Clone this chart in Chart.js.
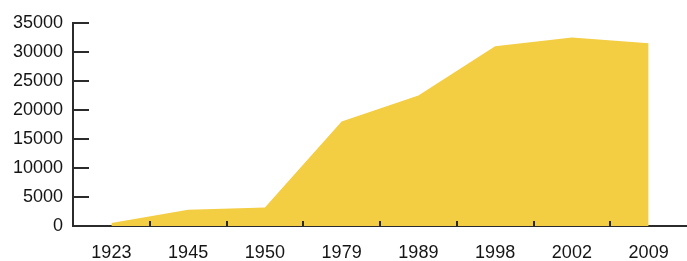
<!DOCTYPE html>
<html>
<head>
<meta charset="utf-8">
<script src="https://cdn.jsdelivr.net/npm/chart.js@4"></script>
<style>
  html, body { margin: 0; padding: 0; background: #fff; }
  #wrap { width: 687px; height: 261px; }
</style>
</head>
<body>
<div id="wrap"><canvas id="areaChart"></canvas></div>
<script>
// data
const years = ['1923', '1945', '1950', '1979', '1989', '1998', '2002', '2009'];
const values = [500, 2800, 3200, 18000, 22500, 31000, 32500, 31500];
const yTicks = [0, 5000, 10000, 15000, 20000, 25000, 30000, 35000];

const axisColor = '#2b2b2b';

// inward tick marks like the original print
const innerTicks = {
  id: 'innerTicks',
  afterDatasetsDraw(chart) {
    const { ctx, chartArea, scales } = chart;
    ctx.save();
    ctx.strokeStyle = axisColor;
    ctx.lineWidth = 2;
    ctx.beginPath();
    yTicks.forEach(v => {
      const y = Math.round(scales.y.getPixelForValue(v));
      ctx.moveTo(chartArea.left, y);
      ctx.lineTo(chartArea.left + 16, y);
    });
    // x ticks sit on the category boundaries
    for (let i = 1; i < years.length; i++) {
      const x = Math.round((scales.x.getPixelForValue(i - 1) + scales.x.getPixelForValue(i)) / 2);
      ctx.moveTo(x, chartArea.bottom);
      ctx.lineTo(x, chartArea.bottom - 5);
    }
    ctx.stroke();
    ctx.restore();
  }
};

new Chart(document.getElementById('areaChart'), {
  type: 'line',
  data: {
    labels: years,
    datasets: [{
      data: values,
      fill: 'origin',
      backgroundColor: 'rgb(243, 205, 66)',
      borderWidth: 0,
      pointRadius: 0,
      tension: 0
    }]
  },
  options: {
    responsive: true,
    maintainAspectRatio: false,
    animation: false,
    layout: { padding: { top: 23, right: 0, left: 0, bottom: 0 } },
    plugins: {
      legend: { display: false },
      tooltip: { enabled: false }
    },
    scales: {
      x: {
        offset: true,
        grid: { display: false, drawTicks: false },
        border: { display: true, color: axisColor, width: 2 },
        ticks: {
          color: '#151515',
          padding: 16,
          maxRotation: 0,
          font: { family: 'Liberation Sans', size: 18 }
        },
        afterFit(scale) { scale.height = 35; }
      },
      y: {
        min: 0,
        max: 35000,
        grid: { display: false, drawTicks: false },
        border: { display: true, color: axisColor, width: 2 },
        afterBuildTicks(scale) { scale.ticks = yTicks.map(v => ({ value: v })); },
        ticks: {
          color: '#151515',
          padding: 10,
          font: { family: 'Liberation Sans', size: 18 },
          callback: v => String(v)
        },
        afterFit(scale) { scale.width = 73; }
      }
    }
  },
  plugins: [innerTicks]
});
</script>
</body>
</html>
